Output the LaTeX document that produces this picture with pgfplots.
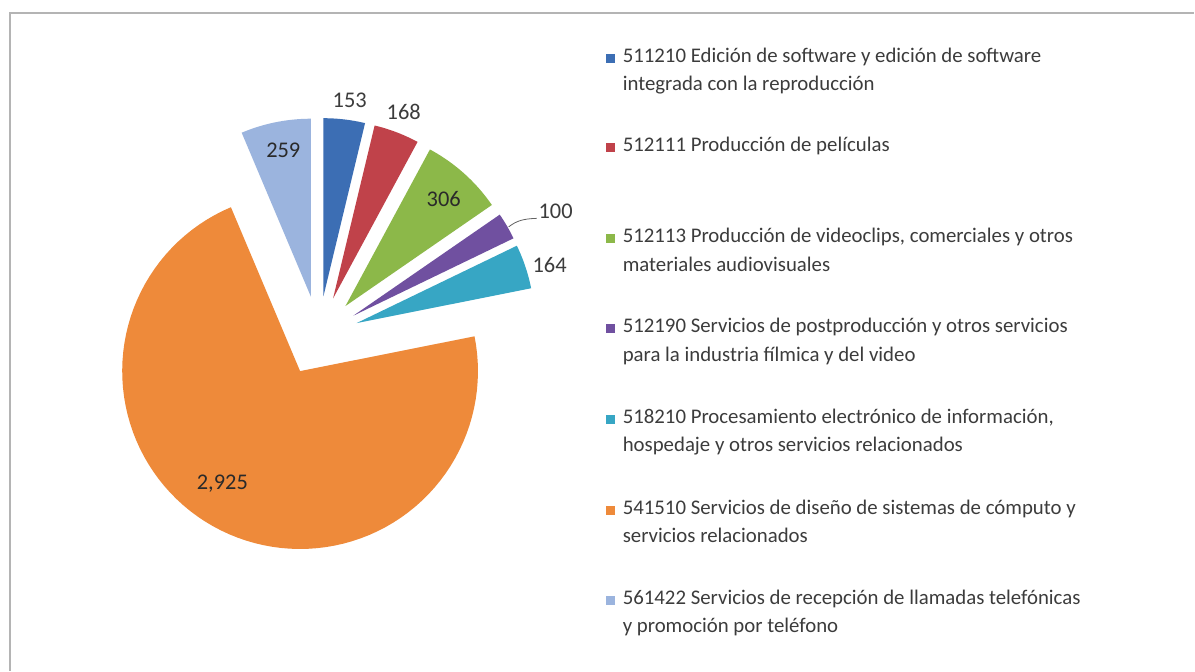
\documentclass[border=0pt]{standalone}
\usepackage{pgfplots}
\pgfplotsset{compat=1.18}
\usepackage{fontspec}
\setmainfont{Carlito}
\definecolor{cBlue}{HTML}{3C6EB4}
\definecolor{cRed}{HTML}{C0424A}
\definecolor{cGreen}{HTML}{8CB849}
\definecolor{cPurple}{HTML}{7050A0}
\definecolor{cTeal}{HTML}{37A6C4}
\definecolor{cOrange}{HTML}{EE8A3A}
\definecolor{cLight}{HTML}{9BB4DE}
\definecolor{txt}{HTML}{3C3C3C}
\definecolor{txtin}{HTML}{2A2A2A}
\definecolor{frame}{HTML}{B4B4B4}
% pie geometry (pixel units)
\def\cx{319}\def\cy{336}\def\R{178}\def\ex{40}
\pgfmathsetmacro\total{153+168+306+100+164+2925+259}
\gdef\cum{0}
\newcommand{\slice}[2]{% #1 value, #2 colour
  \pgfmathsetmacro\aA{90-\cum/\total*360}%
  \pgfmathsetmacro\aB{90-(\cum+#1)/\total*360}%
  \pgfmathsetmacro\aM{(\aA+\aB)/2}%
  \pgfmathsetmacro\vx{\cx+\ex*cos(\aM)}%
  \pgfmathsetmacro\vy{\cy-\ex*sin(\aM)}%
  \pgfmathsetmacro\newcum{\cum+#1}%
  \xdef\cum{\newcum}%
  \edef\temp{\noexpand\addplot[fill=#2,draw=none,domain=\aB:\aA,samples=90] ({\vx+\R*cos(x)},{\vy-\R*sin(x)}) -- (axis cs:\vx,\vy) -- cycle;}%
  \temp
}
\newcommand{\leg}[3]{% baseline, colour, text
  \fill[#2] (axis cs:606,#1-8.5) rectangle (axis cs:615,#1+0.5);
  \node[anchor=base west,inner sep=0pt,text=txt,font=\fontsize{20.9}{24}\selectfont] at (axis cs:623,#1) {#3};
}
\newcommand{\legline}[2]{%
  \node[anchor=base west,inner sep=0pt,text=txt,font=\fontsize{20.9}{24}\selectfont] at (axis cs:623,#1) {#2};
}
\begin{document}
\begin{tikzpicture}
\begin{axis}[
  at={(0,0)}, anchor=south west,
  width=1195bp, height=671bp, scale only axis,
  xmin=0, xmax=1195, ymin=0, ymax=671, y dir=reverse,
  hide axis, clip=false,
]
\fill[white] (axis cs:0,0) rectangle (axis cs:1195,671);
\draw[frame,line width=1.6bp] (axis cs:10,671) -- (axis cs:10,13) -- (axis cs:1195,13);
\slice{153}{cBlue}
\slice{168}{cRed}
\slice{306}{cGreen}
\slice{100}{cPurple}
\slice{164}{cTeal}
\slice{2925}{cOrange}
\slice{259}{cLight}
% data labels
\tikzset{vl/.style={text=txt,inner sep=0pt,font=\fontsize{22.5}{26}\selectfont},
         vi/.style={text=txtin,inner sep=0pt,font=\fontsize{22.5}{26}\selectfont}}
\node[vl] at (axis cs:350,100) {153};
\node[vl] at (axis cs:404,112) {168};
\node[vi] at (axis cs:444,199.5) {306};
\node[vl] at (axis cs:556,211.5) {100};
\node[vl] at (axis cs:550,265.5) {164};
\node[vi] at (axis cs:283.5,150) {259};
\node[vi] at (axis cs:222.5,484) {2,925};
\draw[txt!80,line width=0.8bp] (axis cs:509,227) .. controls (axis cs:517,221) and (axis cs:523,219) .. (axis cs:537,218.5);
% legend
\leg{63}{cBlue}{511210 Edición de software y edición de software}
\legline{91}{integrada con la reproducción}
\leg{152}{cRed}{512111 Producción de películas}
\leg{243}{cGreen}{512113 Producción de videoclips, comerciales y otros}
\legline{272}{materiales audiovisuales}
\leg{333}{cPurple}{512190 Servicios de postproducción y otros servicios}
\legline{362}{para la industria fílmica y del video}
\leg{424}{cTeal}{518210 Procesamiento electrónico de información,}
\legline{452}{hospedaje y otros servicios relacionados}
\leg{515}{cOrange}{541510 Servicios de diseño de sistemas de cómputo y}
\legline{543}{servicios relacionados}
\leg{605}{cLight}{561422 Servicios de recepción de llamadas telefónicas}
\legline{633}{y promoción por teléfono}
\end{axis}
\end{tikzpicture}
\end{document}
